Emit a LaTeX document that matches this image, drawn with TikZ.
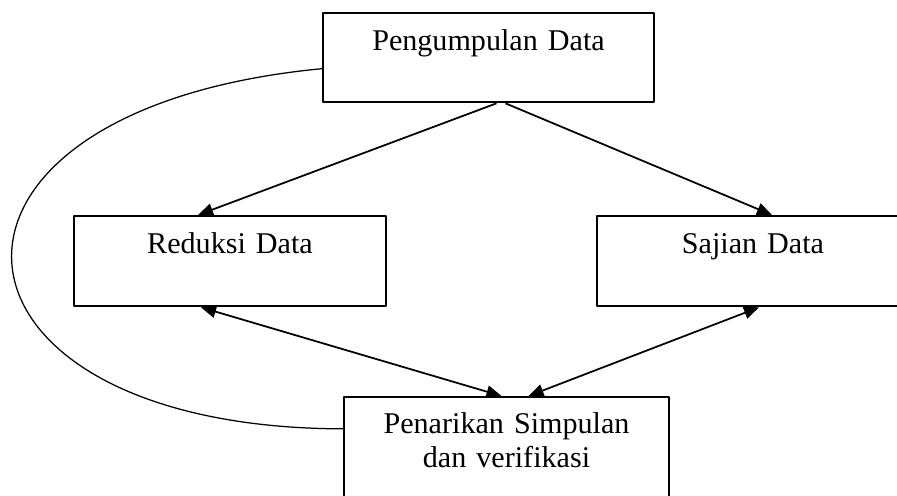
\documentclass[tikz,border=0pt]{standalone}
\usepackage{fontspec}
\setmainfont{Liberation Serif}
\usetikzlibrary{arrows.meta}
\begin{document}
\begin{tikzpicture}[x=0.014cm, y=-0.014cm, line join=round, font=\fontsize{12}{13.5}\selectfont, >={Triangle[length=6pt,width=5pt]},
	kotak/.style={draw, line width=.8pt, anchor=north west, inner sep=0pt, align=center, text height=15pt},
	panah/.style={line width=.7pt}]
	\def\px{0.014cm} % satu piksel
	\def\lb{312}  % lebar kotak tengah
	\path[use as bounding box, clip] (0,0) rectangle (897,496);
	\path 
	(322,12) coordinate (P)
	(73,215) coordinate (R)
	(596,215) coordinate (S)
	(343,396) coordinate (K)
	;
	\node[kotak, text width=331*\px, text depth=20.6pt] (kumpul) at (P) {Pengumpulan Data};
	\node[kotak, text width=\lb*\px, text depth=21pt] (reduksi) at (R) {Reduksi Data};
	\node[kotak, text width=\lb*\px, text depth=21pt] (sajian) at (S) {Sajian Data};
	\node[kotak, text width=325*\px, text height=14.7pt, text depth=29pt] (simpul) at (K) {Penarikan Simpulan\\dan verifikasi};
	
	\draw[panah, ->] 
	([shift={(8,0)}]kumpul.south) -- ([shift={(-32,0)}]reduksi.north);
	\draw[panah, ->] 
	([shift={(17,0)}]kumpul.south) -- ([shift={(19,0)}]sajian.north);
	\draw[panah, <->] 
	([shift={(-29,0)}]reduksi.south) -- ([shift={(-5,0)}]simpul.north);
	\draw[panah, <->] 
	([shift={(6,0)}]sajian.south) -- ([shift={(22,0)}]simpul.north);
	\draw[line width=.5pt] 
	([shift={(0,11)}]kumpul.west) .. controls (-110,110) and (-80,428) .. ([shift={(0,-23)}]simpul.west);
\end{tikzpicture}
\end{document}
